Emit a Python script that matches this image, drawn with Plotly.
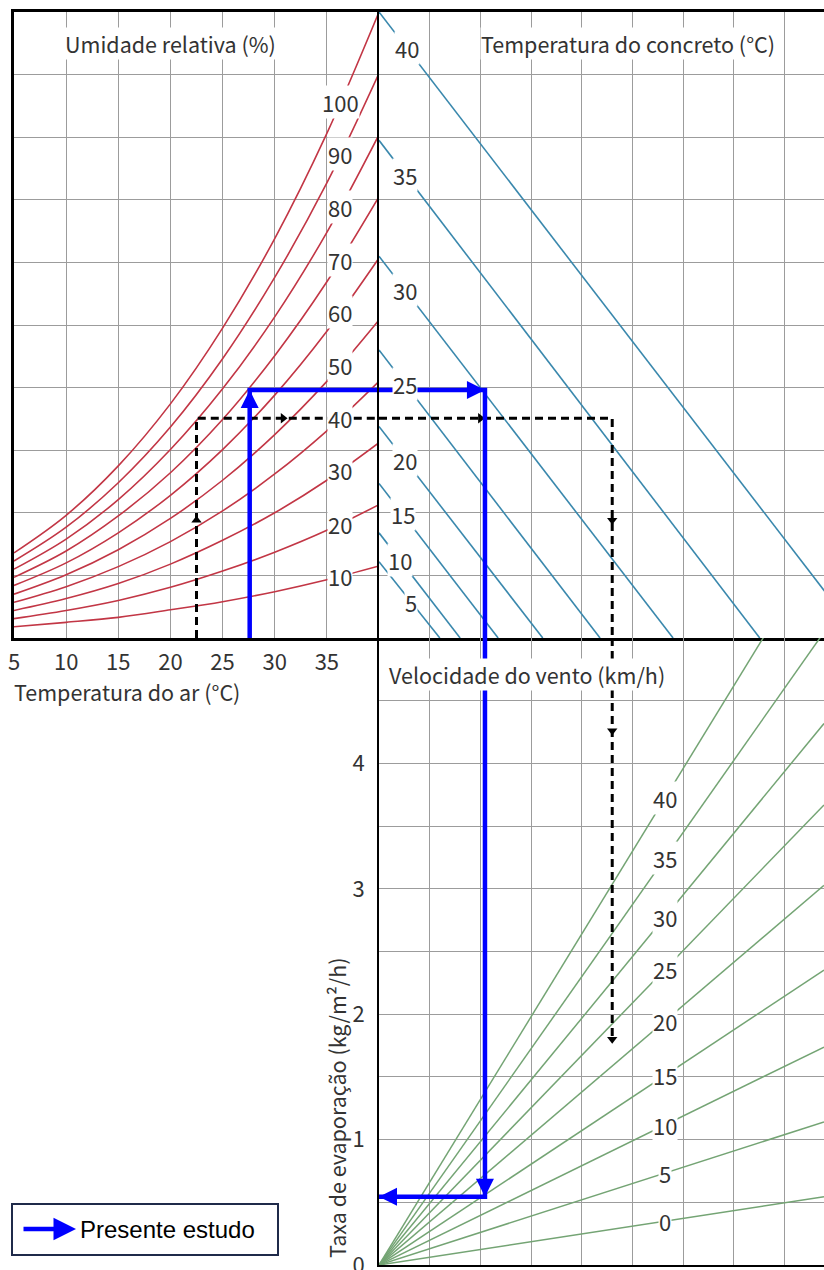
import numpy as np
import plotly.graph_objects as go

air_temp = [5, 10, 15, 20, 25, 30, 35, 40]              # Temperatura do ar (°C)
rh_levels = [10, 20, 30, 40, 50, 60, 70, 80, 90, 100]   # Umidade relativa (%)
rh10 = [0.18, 0.25, 0.33, 0.45, 0.58, 0.74, 0.93, 1.15]
rh20 = [0.31, 0.44, 0.60, 0.81, 1.07, 1.37, 1.72, 2.13]
rh30 = [0.44, 0.63, 0.87, 1.18, 1.56, 2.00, 2.52, 3.12]
rh40 = [0.57, 0.82, 1.14, 1.54, 2.03, 2.62, 3.31, 4.10]
rh50 = [0.70, 1.01, 1.41, 1.91, 2.52, 3.25, 4.10, 5.08]
rh60 = [0.84, 1.20, 1.68, 2.28, 3.01, 3.88, 4.90, 6.07]
rh70 = [0.97, 1.39, 1.95, 2.64, 3.49, 4.51, 5.69, 7.05]
rh80 = [1.10, 1.58, 2.21, 3.01, 3.98, 5.13, 6.48, 8.04]
rh90 = [1.23, 1.77, 2.48, 3.37, 4.46, 5.76, 7.27, 9.02]
rh100 = [1.36, 1.96, 2.75, 3.74, 4.95, 6.38, 8.06, 10.0]
rh_curves = [rh10, rh20, rh30, rh40, rh50, rh60, rh70, rh80, rh90, rh100]

concrete_temp = [5, 10, 15, 20, 25, 30, 35, 40]                      # Temperatura do concreto (°C)
concrete_start = [1.22, 1.68, 2.47, 3.38, 4.60, 6.10, 7.95, 10.0]    # level on the shared vertical scale
concrete_end = [1.20, 1.60, 2.35, 3.23, 4.36, 5.80, 7.51, 9.50]      # where each line meets the wind scale

wind_speed = [0, 5, 10, 15, 20, 25, 30, 35, 40]                      # Velocidade do vento (km/h)
wind_slope = [0.062, 0.130, 0.198, 0.268, 0.345, 0.418, 0.492, 0.575, 0.660]  # kg/m²/h per grid step

air_ticks = [5, 10, 15, 20, 25, 30, 35]
evap_ticks = [0, 1, 2, 3, 4]

# "Presente estudo" path
study_air = 27.6
study_level = 3.96
study_diff = 2.09
study_evap = 0.544

# dashed example path and its arrow marks
example_air = 22.5
example_level = 3.51
example_diff = 4.6
example_evap = 1.80
example_mark_level_up = 1.88
example_mark_air_right = 30.8
example_mark_diff_right = 2.0
example_mark_level_down = 1.88
example_mark_evap_down = 4.26

# ---------------- layout geometry ----------------
W, H = 824, 1270
LX, MX, TY, MY, BY = 14, 379, 12, 638, 1265
STEP_X = 50.7
XMAX = (W - MX) / STEP_X

FONT = "Noto Sans CJK KR, Noto Sans, sans-serif"
TXT = "#333333"
RED = "#c23645"
TEAL = "#3a88ad"
GREEN = "#74a474"
BLUE = "#0000ff"
GRID = "#9c9c9c"

fig = go.Figure()

# relative humidity curves
for rh, vals in zip(rh_levels, rh_curves):
    fig.add_trace(go.Scatter(x=air_temp, y=vals, mode="lines", xaxis="x", yaxis="y",
                             line=dict(color=RED, width=1.6, shape="spline"),
                             hoverinfo="skip", showlegend=False))

# concrete temperature lines
for tc, y0, x1 in zip(concrete_temp, concrete_start, concrete_end):
    fig.add_trace(go.Scatter(x=[0, x1], y=[y0, 0], mode="lines", xaxis="x2", yaxis="y2",
                             line=dict(color=TEAL, width=1.6),
                             hoverinfo="skip", showlegend=False))

# wind speed lines
for v, s in zip(wind_speed, wind_slope):
    fig.add_trace(go.Scatter(x=[0, XMAX], y=[0, s * XMAX], mode="lines", xaxis="x3", yaxis="y3",
                             line=dict(color=GREEN, width=1.5),
                             hoverinfo="skip", showlegend=False))

# dashed example path
dash_line = dict(color="black", width=3, dash="8px,5px")
fig.add_trace(go.Scatter(x=[example_air, example_air, 40], y=[0, example_level, example_level],
                         mode="lines", xaxis="x", yaxis="y", line=dash_line,
                         hoverinfo="skip", showlegend=False))
fig.add_trace(go.Scatter(x=[0, example_diff, example_diff], y=[example_level, example_level, 0],
                         mode="lines", xaxis="x2", yaxis="y2", line=dash_line,
                         hoverinfo="skip", showlegend=False))
fig.add_trace(go.Scatter(x=[example_diff, example_diff], y=[5, example_evap],
                         mode="lines", xaxis="x3", yaxis="y3", line=dash_line,
                         hoverinfo="skip", showlegend=False))
mk = dict(color="black", size=9)
fig.add_trace(go.Scatter(x=[example_air, example_mark_air_right], y=[example_mark_level_up, example_level],
                         mode="markers", xaxis="x", yaxis="y", cliponaxis=False,
                         marker=dict(symbol=["triangle-up", "triangle-right"], **mk),
                         hoverinfo="skip", showlegend=False))
fig.add_trace(go.Scatter(x=[example_mark_diff_right, example_diff], y=[example_level, example_mark_level_down],
                         mode="markers", xaxis="x2", yaxis="y2", cliponaxis=False,
                         marker=dict(symbol=["triangle-right", "triangle-down"], **mk),
                         hoverinfo="skip", showlegend=False))
fig.add_trace(go.Scatter(x=[example_diff, example_diff], y=[example_mark_evap_down, example_evap],
                         mode="markers", xaxis="x3", yaxis="y3", cliponaxis=False,
                         marker=dict(symbol=["triangle-down", "triangle-down"], **mk),
                         hoverinfo="skip", showlegend=False))

# blue "Presente estudo" path
blue_line = dict(color=BLUE, width=4.5)
fig.add_trace(go.Scatter(x=[study_air, study_air, 40], y=[0, study_level, study_level],
                         mode="lines", xaxis="x", yaxis="y", line=blue_line,
                         hoverinfo="skip", showlegend=False))
fig.add_trace(go.Scatter(x=[0, study_diff, study_diff], y=[study_level, study_level, 0],
                         mode="lines", xaxis="x2", yaxis="y2", line=blue_line,
                         hoverinfo="skip", showlegend=False))
fig.add_trace(go.Scatter(x=[study_diff, study_diff, 0], y=[5, study_evap, study_evap],
                         mode="lines", xaxis="x3", yaxis="y3", line=blue_line,
                         hoverinfo="skip", showlegend=False))
bm = dict(color=BLUE, size=18, line=dict(width=0))
fig.add_trace(go.Scatter(x=[study_air], y=[study_level], mode="markers", xaxis="x", yaxis="y",
                         cliponaxis=False, marker=dict(symbol="arrow-up", **bm),
                         hoverinfo="skip", showlegend=False))
fig.add_trace(go.Scatter(x=[study_diff], y=[study_level], mode="markers", xaxis="x2", yaxis="y2",
                         cliponaxis=False, marker=dict(symbol="arrow-right", **bm),
                         hoverinfo="skip", showlegend=False))
fig.add_trace(go.Scatter(x=[study_diff, 0], y=[study_evap, study_evap], mode="markers",
                         xaxis="x3", yaxis="y3", cliponaxis=False,
                         marker=dict(symbol=["arrow-down", "arrow-left"], **bm),
                         hoverinfo="skip", showlegend=False))

# ---------------- annotations ----------------
ann = []
lab_font = dict(family=FONT, size=22, color=TXT)
title_font = dict(family=FONT, size=21.5, color=TXT)

RH_LABEL_T = 36.3
for rh, vals in zip(rh_levels, rh_curves):
    ann.append(dict(x=RH_LABEL_T, y=float(np.interp(RH_LABEL_T, air_temp, vals)), xref="x", yref="y",
                    text=str(rh), showarrow=False, font=lab_font, bgcolor="white", borderpad=0))

# distance along the wind scale at which each concrete label sits on its line
TC_LABEL_X = [0.64, 0.42, 0.47, 0.52, 0.52, 0.52, 0.52, 0.55]
for tc, y0, x1, lx in zip(concrete_temp, concrete_start, concrete_end, TC_LABEL_X):
    ann.append(dict(x=lx, y=y0 * (1 - lx / x1), xref="x2", yref="y2",
                    text=str(tc), showarrow=False, font=lab_font, bgcolor="white", borderpad=0))

WIND_LABEL_X = 5.64
for v, s in zip(wind_speed, wind_slope):
    ann.append(dict(x=WIND_LABEL_X, y=s * WIND_LABEL_X, xref="x3", yref="y3",
                    text=str(v), showarrow=False, font=lab_font, bgcolor="white", borderpad=0))

ann += [
    dict(x=9.8, y=9.49, xref="x", yref="y", xanchor="left", yanchor="middle",
         text="Umidade relativa (%)", showarrow=False, font=title_font, bgcolor="white", borderpad=0),
    dict(x=1.99, y=9.49, xref="x2", yref="y2", xanchor="left", yanchor="middle",
         text="Temperatura do concreto (°C)", showarrow=False, font=title_font, bgcolor="white", borderpad=0),
    dict(x=0.17, y=4.71, xref="x3", yref="y3", xanchor="left", yanchor="middle",
         text="Velocidade do vento (km/h)", showarrow=False, font=title_font, bgcolor="white", borderpad=0),
    dict(x=13 / W, y=1 - 691 / H, xref="paper", yref="paper", xanchor="left", yanchor="middle",
         text="Temperatura do ar (°C)", showarrow=False, font=title_font, borderpad=0),
    dict(x=336 / W, y=1 - 1108 / H, xref="paper", yref="paper", xanchor="center", yanchor="middle",
         textangle=-90, text="Taxa de evaporação (kg/m²/h)", showarrow=False, font=title_font,
         borderpad=0),
    # legend
    dict(x=76 / W, y=1 - 1229 / H, xref="paper", yref="paper", ax=-54, ay=0, text="",
         showarrow=True, arrowhead=2, arrowsize=1, arrowwidth=4.5, arrowcolor=BLUE, standoff=0),
    dict(x=79 / W, y=1 - 1229 / H, xref="paper", yref="paper", xanchor="left", yanchor="middle",
         text="Presente estudo", showarrow=False, borderpad=0,
         font=dict(family="Liberation Sans, Arial, sans-serif", size=24, color="black")),
]

shapes = [dict(type="rect", xref="paper", yref="paper", x0=12 / W, x1=278 / W,
               y0=1 - 1255 / H, y1=1 - 1204 / H, line=dict(color="#1f2a4a", width=2),
               fillcolor="white", layer="below")]

base = dict(showgrid=True, gridcolor=GRID, gridwidth=1.4, zeroline=False, showline=True,
            linecolor="black", linewidth=2, ticks="", fixedrange=True, automargin=False)
top_dom = [1 - MY / H, 1 - TY / H]
bot_dom = [1 - BY / H, 1 - MY / H]

fig.update_layout(
    width=W, height=H, autosize=False,
    margin=dict(l=0, r=0, t=0, b=0, pad=0, autoexpand=False),
    paper_bgcolor="white", plot_bgcolor="white",
    showlegend=False,
    xaxis=dict(base, domain=[LX / W, MX / W], range=[5, 40], anchor="y", mirror=True, linewidth=2.5,
               tickvals=air_ticks, ticktext=[str(t) for t in air_ticks],
               tickfont=dict(family=FONT, size=22, color=TXT), ticklabelstandoff=3,
               ticklabeloverflow="allow"),
    yaxis=dict(base, domain=top_dom, range=[0, 10], dtick=1, anchor="x", linewidth=2.5,
               showticklabels=False),
    xaxis2=dict(base, domain=[MX / W, 1], range=[0, XMAX], dtick=1, anchor="y2", mirror=True,
                linewidth=2.5, showticklabels=False),
    yaxis2=dict(base, domain=top_dom, range=[0, 10], dtick=1, anchor="x2", showticklabels=False),
    xaxis3=dict(base, domain=[MX / W, 1], range=[0, XMAX], dtick=1, anchor="y3",
                showticklabels=False),
    yaxis3=dict(base, domain=bot_dom, range=[0, 5], anchor="x3",
                tickvals=[t + h for t in evap_ticks for h in (0, 0.5)],
                ticktext=[s for t in evap_ticks for s in (str(t), "")],
                tickfont=dict(family=FONT, size=22, color=TXT), ticklabelstandoff=8,
                ticklabeloverflow="allow"),
    annotations=ann,
    shapes=shapes,
)

fig.write_html("out.html")
